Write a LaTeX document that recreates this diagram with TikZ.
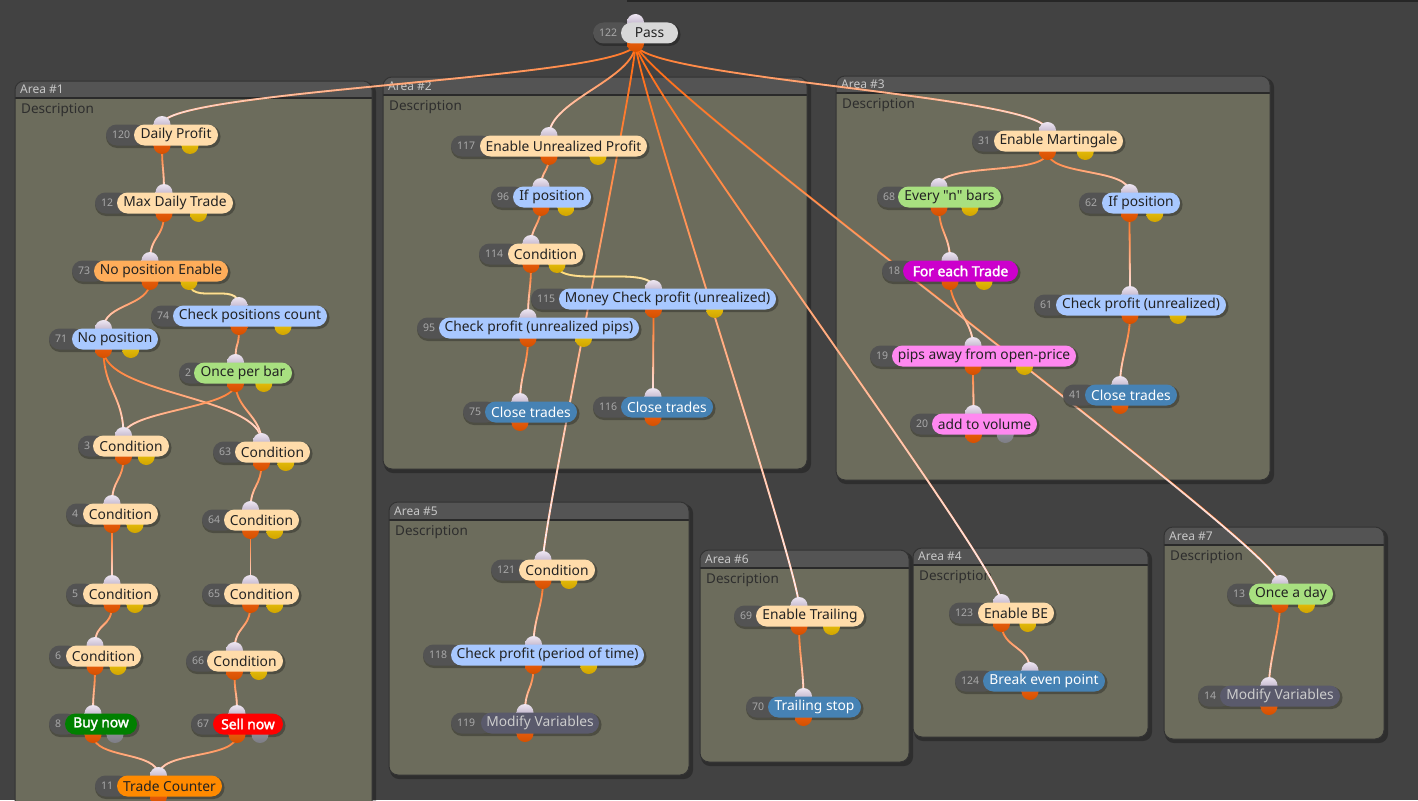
\documentclass[tikz,border=0pt]{standalone}
\usepackage{fontspec}
\setmainfont{Noto Sans}
\newfontfamily\uisans{Noto Sans}
\newfontfamily\uibold{Noto Sans}[FakeBold=2.2]
\usetikzlibrary{fadings,calc}
\definecolor{bgc}{HTML}{424242}
\definecolor{areabodyc}{HTML}{6C6C5C}
\definecolor{areatitlec}{HTML}{545454}
\definecolor{areaLinec}{HTML}{2A2A2A}
\definecolor{areaBorderc}{HTML}{333333}
\definecolor{creamc}{HTML}{FFDCAA}
\definecolor{orangeLc}{HTML}{FFAD5A}
\definecolor{orangeDc}{HTML}{FF8A00}
\definecolor{lbluec}{HTML}{A8C8FF}
\definecolor{lgreenc}{HTML}{A8E080}
\definecolor{steelc}{HTML}{4682B4}
\definecolor{dgreenc}{HTML}{008000}
\definecolor{redc}{HTML}{FF0000}
\definecolor{magentac}{HTML}{CC00CC}
\definecolor{pinkc}{HTML}{FF88F0}
\definecolor{slatec}{HTML}{5A5A6C}
\definecolor{passc}{HTML}{D8D8D8}
\definecolor{numc}{HTML}{535353}
\definecolor{numtc}{HTML}{A8A8A8}
\definecolor{wireO}{HTML}{FF6A10}
\definecolor{wireY}{HTML}{FFD23C}
\definecolor{wireP}{HTML}{FFEEF2}
\definecolor{portO1}{HTML}{F26414}
\definecolor{portO2}{HTML}{D45000}
\definecolor{portY1}{HTML}{F2CC10}
\definecolor{portY2}{HTML}{D0A400}
\definecolor{portG1}{HTML}{9A9AA2}
\definecolor{portG2}{HTML}{7C7C84}
\definecolor{portI1}{HTML}{EEE6F2}
\definecolor{portI2}{HTML}{A496B2}
\definecolor{txtc}{HTML}{222222}
\pgfdeclarelayer{bg}
\pgfdeclarelayer{edges}
\pgfdeclarelayer{shadows}
\pgfdeclarelayer{ports}
\pgfdeclarelayer{nodebg}
\pgfsetlayers{bg,edges,shadows,ports,nodebg,main}
\tikzfading[name=wirefade, top color=transparent!100, middle color=transparent!88, bottom color=transparent!0]
\newcommand\lblfont{\uisans\fontsize{13.8}{16}\selectfont}
\newcommand\lblbold{\uibold\fontsize{13.8}{16}\selectfont}
% name, numL, L, R, y, num, label, style, ports(y/g/n)
\newcommand\bnode[9]{%
  \pgfmathsetmacro\bcx{(#2+#4)/2}%
  \pgfmathsetmacro\byx{\bcx+(#4-#2)/4}%
  \pgfmathsetmacro\bmx{(#3+#4)/2}%
  \pgfmathsetmacro\bw{#4-#3}%
  \node[pill,#8,minimum width=\bw pt] (#1) at (\bmx,#5) {#7};
  \coordinate (#1-in) at (\bcx,#5-10.5);
  \coordinate (#1-o) at (\bcx,#5+10.5);
  \coordinate (#1-y) at (\byx,#5+10.5);
  \begin{pgfonlayer}{nodebg}
    \fill[numc,rounded corners=10.5pt] (#2,#5-10.5) rectangle (#3+12,#5+10.5);
    \node[numtxt,anchor=west] (#1-num) at (#2+6,#5) {#6};
  \end{pgfonlayer}
  \begin{pgfonlayer}{shadows}
    \fill[black,opacity=.28,rounded corners=11pt] (#2,#5-9.5) rectangle (#4+2.5,#5+13);
  \end{pgfonlayer}
  \begin{pgfonlayer}{ports}
    \shade[top color=portI1,bottom color=portI2] (#1-in) circle (8.5);
    \shade[top color=portO1,bottom color=portO2] (#1-o) circle (8.5);
    \if y#9\shade[top color=portY1,bottom color=portY2] (#1-y) circle (8.5);\fi
    \if g#9\shade[top color=portG1,bottom color=portG2] (#1-y) circle (8.5);\fi
  \end{pgfonlayer}
}
% name x1 y1 x2 y2 titleheight title
\newcommand\area[7]{%
  \begin{pgfonlayer}{bg}
    \fill[black,opacity=.3,rounded corners=9pt] (#2+1,#3+2) rectangle (#4+4,#5+4);
    \fill[areabodyc,rounded corners=9pt] (#2,#3) rectangle (#4,#5);
    \begin{scope}
      \clip[rounded corners=9pt] (#2,#3) rectangle (#4,#5);
      \fill[areatitlec] (#2,#3) rectangle (#4,#3+#6);
      \draw[areaLinec,line width=1.3pt] (#2,#3+#6) -- (#4,#3+#6);
    \end{scope}
    \draw[areaBorderc,line width=1pt,rounded corners=9pt] (#2,#3) rectangle (#4,#5);
    \node[areattl,anchor=west] (#1-t) at (#2+5,#3+#6/2) {#7};
    \node[areadesc,anchor=west] (#1-d) at (#2+6,#3+#6+12) {Description};
  \end{pgfonlayer}
}
\newcommand\wire[4][25]{%
  \draw[wireb,draw=#4] (#2) .. controls ($(#2)+(0,#1)$) and ($(#3)+(0,-#1)$) .. (#3) (#2) ++(-6,0) ++(12,0);
  \draw[wireb,draw=wireP,path fading=wirefade] (#2) .. controls ($(#2)+(0,#1)$) and ($(#3)+(0,-#1)$) .. (#3) (#2) ++(-6,0) ++(12,0);
}
\begin{document}
\begin{tikzpicture}[x=1pt,y=-1pt,
  pill/.style={rectangle,rounded corners=10.5pt,minimum height=21pt,inner sep=0pt,font=\lblfont,text=txtc},
  numtxt/.style={inner sep=0pt,font=\uisans\fontsize{10.5}{12}\selectfont,text=numtc},
  areattl/.style={inner sep=0pt,font=\uisans\fontsize{12}{14}\selectfont,text=white!78!black},
  areadesc/.style={inner sep=0pt,font=\uisans\fontsize{13.5}{16}\selectfont,text=black!82},
  wireb/.style={line width=1.8pt},
  kcream/.style={fill=creamc},
  korangeL/.style={fill=orangeLc},
  korangeD/.style={fill=orangeDc},
  kblue/.style={fill=lbluec},
  kgreen/.style={fill=lgreenc},
  ksteel/.style={fill=steelc,text=white},
  kbuy/.style={fill=dgreenc,text=white,font=\lblbold},
  ksell/.style={fill=redc,text=white,font=\lblbold},
  keach/.style={fill=magentac,text=white,font=\lblbold},
  kpink/.style={fill=pinkc},
  kslate/.style={fill=slatec,text=white!80!black},
  kpass/.style={fill=passc}]
\useasboundingbox (0,0) rectangle (1418,800);
\begin{pgfonlayer}{bg}
  \fill[bgc] (0,0) rectangle (1418,800);
  \draw[black!85,line width=1.5pt] (628,0) |- (1418,1.2);
\end{pgfonlayer}
% areas
\area{a1}{15}{81}{372}{830}{17}{Area \#1}
\area{a2}{383}{77}{807}{469}{18}{Area \#2}
\area{a3}{836}{76}{1270}{480}{17}{Area \#3}
\area{a5}{389}{502}{689}{775}{18}{Area \#5}
\area{a6}{700}{550}{909}{762}{18}{Area \#6}
\area{a4}{913}{548}{1148}{737}{17}{Area \#4}
\area{a7}{1164}{527}{1384}{739}{18}{Area \#7}
% nodes
\bnode{n122}{593}{621}{678}{33}{122}{Pass}{kpass}{n}
\bnode{n120}{106}{134}{218}{135}{120}{Daily Profit}{kcream}{y}
\bnode{n12}{95}{117}{233}{203}{12}{Max Daily Trade}{kcream}{y}
\bnode{n73}{72}{94}{228}{271}{73}{No position Enable}{korangeL}{y}
\bnode{n74}{151}{173}{327}{316}{74}{Check positions count}{kblue}{y}
\bnode{n71}{49}{72}{158}{339}{71}{No position}{kblue}{y}
\bnode{n2}{179}{194}{292}{373}{2}{Once per bar}{kgreen}{y}
\bnode{n3}{78}{93}{169}{446}{3}{Condition}{kcream}{y}
\bnode{n63}{213}{235}{310}{452}{63}{Condition}{kcream}{y}
\bnode{n4}{66}{83}{158}{514}{4}{Condition}{kcream}{y}
\bnode{n64}{202}{224}{299}{520}{64}{Condition}{kcream}{y}
\bnode{n5}{66}{83}{158}{594}{5}{Condition}{kcream}{y}
\bnode{n65}{202}{224}{299}{594}{65}{Condition}{kcream}{y}
\bnode{n6}{49}{66}{141}{656}{6}{Condition}{kcream}{y}
\bnode{n66}{186}{207}{283}{661}{66}{Condition}{kcream}{y}
\bnode{n8}{49}{65}{137}{724}{8}{Buy now}{kbuy}{g}
\bnode{n67}{191}{213}{283}{724}{67}{Sell now}{ksell}{g}
\bnode{n11}{95}{117}{222}{786}{11}{Trade Counter}{korangeD}{n}
\bnode{n117}{451}{480}{647}{146}{117}{Enable Unrealized Profit}{kcream}{y}
\bnode{n96}{491}{513}{591}{197}{96}{If position}{kblue}{y}
\bnode{n114}{479}{508}{583}{254}{114}{Condition}{kcream}{y}
\bnode{n115}{531}{559}{776}{299}{115}{Money Check profit (unrealized)}{kblue}{y}
\bnode{n95}{417}{439}{639}{328}{95}{Check profit (unrealized pips)}{kblue}{y}
\bnode{n75}{463}{485}{577}{412}{75}{Close trades}{ksteel}{n}
\bnode{n116}{593}{621}{713}{407}{116}{Close trades}{ksteel}{n}
\bnode{n31}{972}{994}{1123}{141}{31}{Enable Martingale}{kcream}{y}
\bnode{n68}{877}{898}{1001}{197}{68}{Every "n" bars}{kgreen}{y}
\bnode{n62}{1079}{1102}{1180}{203}{62}{If position}{kblue}{y}
\bnode{n18}{882}{903}{1018}{271}{18}{For each Trade}{keach}{y}
\bnode{n61}{1034}{1056}{1226}{305}{61}{Check profit (unrealized)}{kblue}{y}
\bnode{n19}{870}{892}{1076}{356}{19}{pips away from open-price}{kpink}{y}
\bnode{n41}{1063}{1085}{1177}{395}{41}{Close trades}{ksteel}{n}
\bnode{n20}{910}{932}{1037}{424}{20}{add to volume}{kpink}{g}
\bnode{n121}{491}{519}{595}{570}{121}{Condition}{kcream}{y}
\bnode{n118}{423}{451}{644}{655}{118}{Check profit (period of time)}{kblue}{y}
\bnode{n119}{451}{481}{599}{723}{119}{Modify Variables}{kslate}{n}
\bnode{n69}{734}{756}{864}{616}{69}{Enable Trailing}{kcream}{y}
\bnode{n70}{746}{768}{861}{707}{70}{Trailing stop}{ksteel}{n}
\bnode{n123}{949}{978}{1054}{613}{123}{Enable BE}{kcream}{y}
\bnode{n124}{955}{983}{1105}{681}{124}{Break even point}{ksteel}{n}
\bnode{n13}{1227}{1249}{1333}{594}{13}{Once a day}{kgreen}{y}
\bnode{n14}{1198}{1220}{1340}{696}{14}{Modify Variables}{kslate}{n}
% wires
\begin{pgfonlayer}{edges}
\wire[35]{n122-o}{n120-in}{wireO}
\wire[35]{n122-o}{n117-in}{wireO}
\wire[35]{n122-o}{n31-in}{wireO}
\wire[35]{n122-o}{n121-in}{wireO}
\wire[35]{n122-o}{n69-in}{wireO}
\wire[35]{n122-o}{n123-in}{wireO}
\wire[35]{n122-o}{n13-in}{wireO}
\wire{n120-o}{n12-in}{wireO}
\wire{n12-o}{n73-in}{wireO}
\wire{n73-o}{n71-in}{wireO}
\wire{n73-y}{n74-in}{wireY}
\wire{n74-o}{n2-in}{wireO}
\wire[40]{n71-o}{n3-in}{wireO}
\wire[45]{n71-o}{n63-in}{wireO}
\wire{n2-o}{n3-in}{wireO}
\wire{n2-o}{n63-in}{wireO}
\wire{n3-o}{n4-in}{wireO}
\wire{n4-o}{n5-in}{wireO}
\wire{n5-o}{n6-in}{wireO}
\wire{n6-o}{n8-in}{wireO}
\wire{n63-o}{n64-in}{wireO}
\wire{n64-o}{n65-in}{wireO}
\wire{n65-o}{n66-in}{wireO}
\wire{n66-o}{n67-in}{wireO}
\wire{n8-o}{n11-in}{wireO}
\wire{n67-o}{n11-in}{wireO}
\wire[15]{n117-o}{n96-in}{wireO}
\wire[15]{n96-o}{n114-in}{wireO}
\wire{n114-o}{n95-in}{wireO}
\wire{n114-y}{n115-in}{wireY}
\wire{n95-o}{n75-in}{wireO}
\wire{n115-o}{n116-in}{wireO}
\wire{n31-o}{n68-in}{wireO}
\wire{n31-o}{n62-in}{wireO}
\wire{n68-o}{n18-in}{wireO}
\wire{n62-o}{n61-in}{wireO}
\wire{n18-o}{n19-in}{wireO}
\wire{n61-o}{n41-in}{wireO}
\wire{n19-o}{n20-in}{wireO}
\wire{n121-o}{n118-in}{wireO}
\wire{n118-o}{n119-in}{wireO}
\wire{n69-o}{n70-in}{wireO}
\wire{n123-o}{n124-in}{wireO}
\wire{n13-o}{n14-in}{wireO}
\end{pgfonlayer}
\end{tikzpicture}
\end{document}
